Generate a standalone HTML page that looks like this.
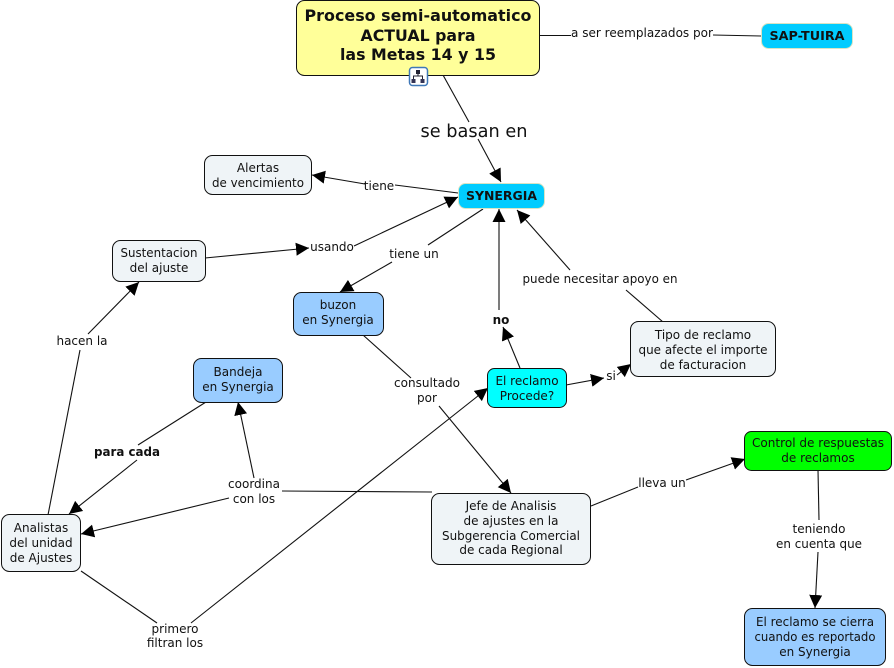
<!DOCTYPE html>
<html><head><meta charset="utf-8"><style>
html,body{margin:0;padding:0;background:#fff}
svg{display:block}
text{font-family:"DejaVu Sans","Liberation Sans",sans-serif;font-size:12px;fill:#111;text-anchor:middle}
.n{stroke:#111;stroke-width:1}
.l{stroke:#111;stroke-width:1.1;fill:none}
.a{marker-end:url(#h)}
</style></head><body>
<svg width="894" height="668" viewBox="0 0 894 668" xmlns="http://www.w3.org/2000/svg">
<defs><marker id="h" markerUnits="userSpaceOnUse" markerWidth="14" markerHeight="14" refX="13" refY="6.5" orient="auto"><path d="M0 0L13 6.5L0 13Z" fill="#000"/></marker></defs>

<g class="l">
<path d="M540 35.5H571"/><path d="M713 35L761 36"/>
<path d="M443 75L469 122"/><path class="a" d="M478 139L501 182"/>
<path d="M458 193L395 185"/><path class="a" d="M365 184L312 175"/>
<path class="a" d="M205 258L309 248"/><path class="a" d="M354 246L458 197"/>
<path d="M483 209L428 245"/><path class="a" d="M392 262L340 292"/>
<path d="M363 335L411 378"/><path class="a" d="M439 406L511 493"/>
<path d="M591 506L638 487"/><path class="a" d="M686 480L745 459"/>
<path d="M818 470L819 520"/><path class="a" d="M818 552L815 608"/>
<path d="M282 491L432 492"/><path class="a" d="M254 478L238 402"/><path class="a" d="M229 498L81 534"/>
<path d="M206 402L138 445"/><path class="a" d="M137 460L69 514"/>
<path d="M48 515L80 350"/><path class="a" d="M88 334L139 282"/>
<path d="M81 571L157 623"/><path class="a" d="M191 623L488 388"/>
<path class="a" d="M520 368L503 327"/><path class="a" d="M499 310V209"/>
<path class="a" d="M566 385L604 378"/><path class="a" d="M617 375L631 364"/>
<path d="M663 322L626 290"/><path class="a" d="M570 270L517 210"/>
</g>

<rect class="n" x="296.5" y="0.5" width="243" height="75" rx="8" fill="#ffff99"/>
<rect x="761.5" y="23.5" width="91" height="25" rx="7" fill="#00ccff" stroke="#d8e4c4"/>
<rect x="458.5" y="183.5" width="86" height="25" rx="7" fill="#00ccff" stroke="#d8e4c4"/>
<rect class="n" x="204.5" y="155.5" width="107" height="39" rx="8" fill="#eff4f7"/>
<rect class="n" x="112.5" y="240.5" width="93" height="41" rx="8" fill="#eff4f7"/>
<rect class="n" x="293.5" y="292.5" width="90" height="43" rx="8" fill="#99ccff"/>
<rect class="n" x="193.5" y="358.5" width="89" height="44" rx="8" fill="#99ccff"/>
<rect class="n" x="487.5" y="368.5" width="79" height="39" rx="7" fill="#00ffff"/>
<rect class="n" x="630.5" y="321.5" width="145" height="55" rx="8" fill="#eff4f7"/>
<rect class="n" x="744.5" y="431.5" width="147" height="39" rx="7" fill="#00ff00"/>
<rect class="n" x="431.5" y="493.5" width="159" height="71" rx="8" fill="#eff4f7"/>
<rect class="n" x="1.5" y="514.5" width="79" height="57" rx="8" fill="#eff4f7"/>
<rect class="n" x="744.5" y="608.5" width="141" height="57" rx="8" fill="#99ccff"/>

<rect x="409.5" y="67.5" width="18" height="18" rx="3" fill="#fff" stroke="#3f78b8" stroke-width="1.5"/>
<path d="M418 71V76M413.500 81V76H422.500V81" fill="none" stroke="#223" stroke-width="1"/>
<rect x="416" y="70" width="4" height="4" fill="#223"/><rect x="411.500" y="79" width="4" height="4" fill="#335"/><rect x="420.500" y="79" width="4" height="4" fill="#335"/>

<g style="font-weight:bold;font-size:16px">
<text x="418" y="21" style="font-size:16px;font-weight:bold" textLength="227" lengthAdjust="spacingAndGlyphs">Proceso semi-automatico</text>
<text x="418" y="41" style="font-size:16px;font-weight:bold" textLength="115" lengthAdjust="spacingAndGlyphs">ACTUAL para</text>
<text x="418" y="60" style="font-size:16px;font-weight:bold" textLength="156" lengthAdjust="spacingAndGlyphs">las Metas 14 y 15</text>
</g>
<text x="807" y="40" style="font-weight:bold" textLength="75" lengthAdjust="spacingAndGlyphs">SAP-TUIRA</text>
<text x="501.500" y="200" style="font-weight:bold" textLength="71" lengthAdjust="spacingAndGlyphs">SYNERGIA</text>

<text x="642" y="37" textLength="142" lengthAdjust="spacingAndGlyphs">a ser reemplazados por</text>
<text x="474" y="137" style="font-size:18px" textLength="107" lengthAdjust="spacingAndGlyphs">se basan en</text>
<text x="258" y="172">Alertas</text>
<text x="258" y="187" textLength="92" lengthAdjust="spacingAndGlyphs">de vencimiento</text>
<text x="379" y="190">tiene</text>
<text x="159" y="257" textLength="77" lengthAdjust="spacingAndGlyphs">Sustentacion</text>
<text x="159" y="272">del ajuste</text>
<text x="332" y="251">usando</text>
<text x="414" y="258">tiene un</text>
<text x="338" y="309">buzon</text>
<text x="338" y="324">en Synergia</text>
<text x="600" y="283" textLength="155" lengthAdjust="spacingAndGlyphs">puede necesitar apoyo en</text>
<text x="501" y="324" style="font-weight:bold">no</text>
<text x="82" y="345">hacen la</text>
<text x="238" y="376">Bandeja</text>
<text x="238" y="391">en Synergia</text>
<text x="527" y="385">El reclamo</text>
<text x="527" y="400">Procede?</text>
<text x="611" y="380">si</text>
<text x="703" y="339">Tipo de reclamo</text>
<text x="703" y="354" textLength="129" lengthAdjust="spacingAndGlyphs">que afecte el importe</text>
<text x="703" y="369">de facturacion</text>
<text x="427" y="387" textLength="66" lengthAdjust="spacingAndGlyphs">consultado</text>
<text x="427" y="402">por</text>
<text x="127" y="456" style="font-weight:bold" textLength="66" lengthAdjust="spacingAndGlyphs">para cada</text>
<text x="254" y="488">coordina</text>
<text x="254" y="503">con los</text>
<text x="662" y="487">lleva un</text>
<text x="818" y="447" textLength="132" lengthAdjust="spacingAndGlyphs">Control de respuestas</text>
<text x="818" y="462">de reclamos</text>
<text x="819" y="533">teniendo</text>
<text x="819" y="548" textLength="86" lengthAdjust="spacingAndGlyphs">en cuenta que</text>
<text x="511" y="510">Jefe de Analisis</text>
<text x="511" y="525">de ajustes en la</text>
<text x="511" y="540" textLength="138" lengthAdjust="spacingAndGlyphs">Subgerencia Comercial</text>
<text x="511" y="554">de cada Regional</text>
<text x="41" y="532">Analistas</text>
<text x="41" y="547">del unidad</text>
<text x="41" y="562">de Ajustes</text>
<text x="175" y="633">primero</text>
<text x="175" y="647">filtran los</text>
<text x="815" y="626" textLength="118" lengthAdjust="spacingAndGlyphs">El reclamo se cierra</text>
<text x="815" y="641" textLength="121" lengthAdjust="spacingAndGlyphs">cuando es reportado</text>
<text x="815" y="656">en Synergia</text>
</svg>
</body></html>
